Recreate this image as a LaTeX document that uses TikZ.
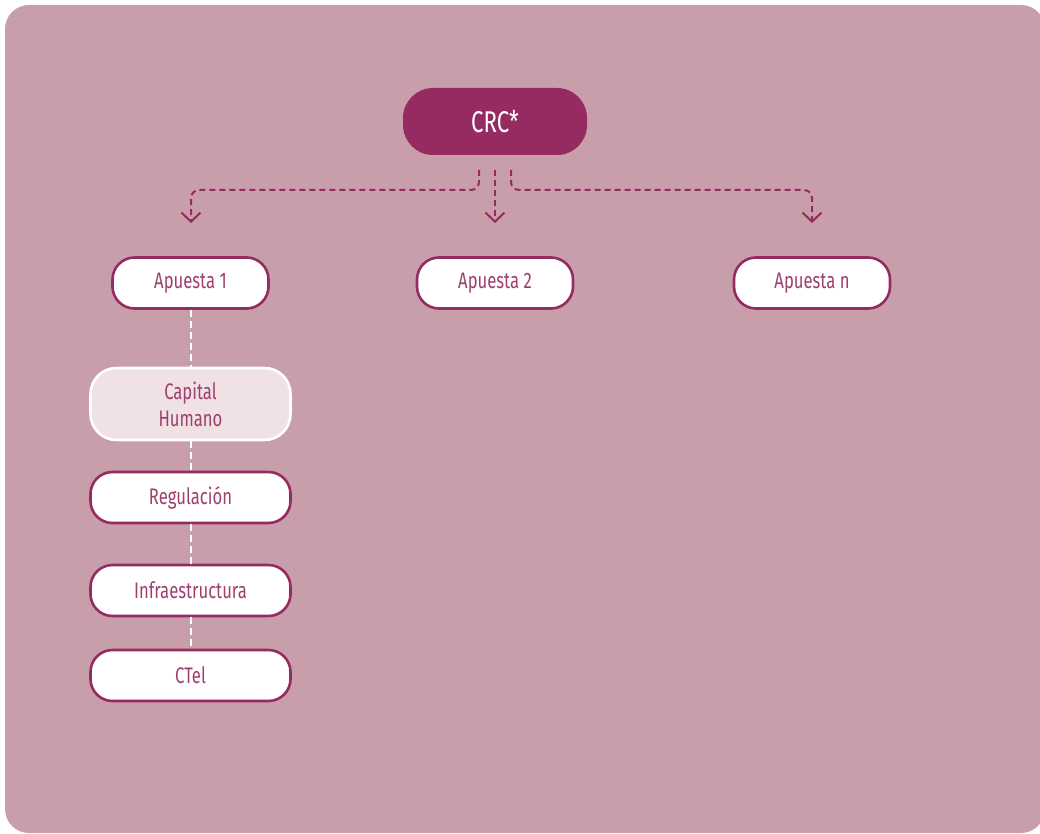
\documentclass[tikz,border=0pt]{standalone}
\usepackage{fontspec}
\setmainfont{Fira Sans}[FakeStretch=0.74]
\usetikzlibrary{arrows.meta,calc}
\definecolor{bgpink}{HTML}{C89EAA}
\definecolor{plum}{HTML}{952B60}
\definecolor{plumtext}{HTML}{9E3F6E}
\definecolor{palepink}{HTML}{F0E1E5}
\begin{document}
\begin{tikzpicture}[x=1pt,y=-1pt,
  topbox/.style={fill=plum, rounded corners=30pt, minimum width=184pt,
    minimum height=67pt, text=white, inner sep=0pt,
    font=\fontsize{30}{32}\selectfont},
  betbox/.style={draw=plum, line width=2.6pt, fill=white, rounded corners=22pt,
    minimum width=156pt, minimum height=51pt, text=plumtext, inner sep=0pt,
    font=\fontsize{22.5}{24}\selectfont},
  areabox/.style={betbox, minimum width=200pt},
  softbox/.style={areabox, draw=white, fill=palepink, minimum height=72pt,
    rounded corners=26pt, align=center, font=\fontsize{22.5}{27}\selectfont},
  flow/.style={draw=plum, line width=2pt, dash pattern=on 6pt off 4pt,
    rounded corners=8pt, -{Straight Barb[length=9pt,width=19pt,line width=2pt]}},
  chain/.style={draw=white, line width=2pt, dash pattern=on 7pt off 4pt}]
\useasboundingbox (0,0) rectangle (1040,834);
\fill[bgpink, rounded corners=24pt] (5,5) rectangle (1045,833);

% head node and the three bets
\node[topbox] (crc) at (495,121.5) {CRC*};
\node[betbox] (a1) at (190.5,283) {Apuesta 1};
\node[betbox] (a2) at (495,283) {Apuesta 2};
\node[betbox] (an) at (812,283) {Apuesta n};

% areas under the first bet
\node[softbox] (cap) at (190.5,404) {Capital\\Humano};
\node[areabox] (reg) at (190.5,497.5) {Regulación};
\node[areabox] (inf) at (190.5,590.5) {Infraestructura};
\node[areabox] (cti) at (190.5,675.5) {CTel};

% arrow ends just above the bets
\coordinate (s1) at (479,170);
\coordinate (s2) at (495,170);
\coordinate (s3) at (511,170);
\coordinate (e1) at (191,223);
\coordinate (e2) at (495,223);
\coordinate (e3) at (812,223);

\draw[flow] (s1) |- (e1 |- 0,190) -- (e1);
\draw[flow] (s2) -- (e2);
\draw[flow] (s3) |- (e3 |- 0,190) -- (e3);

% dashed links between the stacked areas
\draw[chain] (a1.south) -- (cap.north);
\draw[chain] (cap.south) -- (reg.north);
\draw[chain] (reg.south) -- (inf.north);
\draw[chain] (inf.south) -- (cti.north);
\end{tikzpicture}
\end{document}
